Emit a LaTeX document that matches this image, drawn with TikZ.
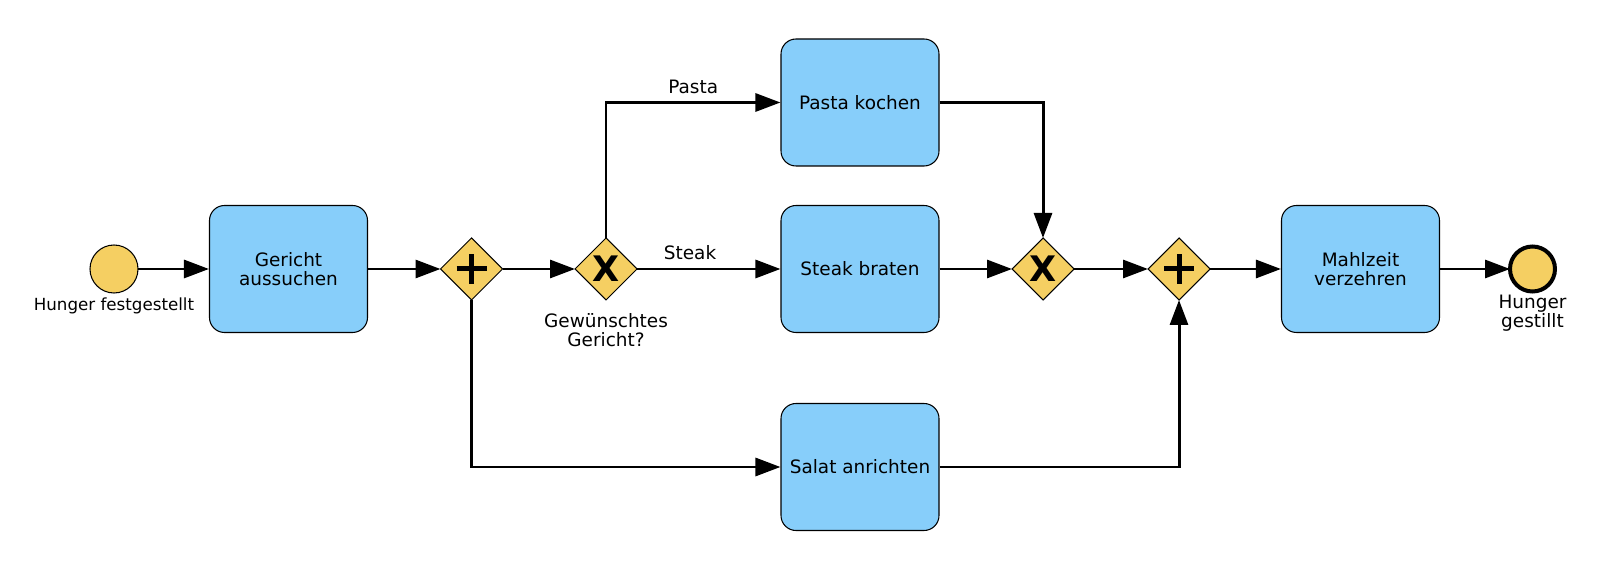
\documentclass[tikz,border=0pt]{standalone}
\usepackage{fontspec}
\setmainfont{DejaVu Sans}
\usetikzlibrary{arrows.meta,shapes.geometric}

\definecolor{taskblue}{RGB}{135,206,250}
\definecolor{gateyellow}{RGB}{245,207,98}

\tikzset{
  task/.style={draw, line width=0.6pt, fill=taskblue, rounded corners=0.3cm,
    minimum width=3.16cm, minimum height=2.54cm, align=center},
  gate/.style={diamond, draw, line width=0.6pt, fill=gateyellow,
    minimum size=1.24cm, inner sep=0pt, outer sep=0pt},
  andgate/.style={gate, path picture={
    \draw[line width=0.1cm] ([xshift=-0.3cm]path picture bounding box.center)
      -- ([xshift=0.3cm]path picture bounding box.center);
    \draw[line width=0.1cm] ([yshift=-0.3cm]path picture bounding box.center)
      -- ([yshift=0.3cm]path picture bounding box.center);}},
  xorgate/.style={gate, path picture={
    \node[inner sep=0pt, font=\fontsize{20}{20}\selectfont\bfseries]
      at (path picture bounding box.center) {X};}},
  startevent/.style={circle, draw, line width=0.6pt, fill=gateyellow,
    minimum size=0.96cm, inner sep=0pt, outer sep=0pt},
  endevent/.style={circle, draw, line width=0.08cm, fill=gateyellow,
    minimum size=0.9cm, inner sep=0pt, outer sep=0pt},
  flow/.style={line width=1.7pt, -{Triangle[length=0.5cm, width=0.36cm]}},
}

\begin{document}
\begin{tikzpicture}[font=\fontsize{10.5}{10.6}\selectfont]
\useasboundingbox (0,0) rectangle (32,11.4);

% Events
\node[startevent] (start) at (2.28,6.02) {};
\node[font=\fontsize{9.5}{10}\selectfont] (startlabel) at (2.28,5.28) {Hunger festgestellt};
\node[endevent] (ende) at (30.65,6.02) {};
\node[align=center] (endelabel) at (30.65,5.14) {Hunger\\gestillt};

% Tasks
\node[task] (gericht) at (5.77,6.02) {Gericht\\aussuchen};
\node[task] (pasta) at (17.2,9.35) {Pasta kochen};
\node[task] (steak) at (17.2,6.02) {Steak braten};
\node[task] (salat) at (17.2,2.06) {Salat anrichten};
\node[task] (mahlzeit) at (27.21,6.02) {Mahlzeit\\verzehren};

% Gateways
\node[andgate] (andsplit) at (9.43,6.02) {};
\node[xorgate] (xorsplit) at (12.12,6.02) {};
\node[align=center] (xorlabel) at (12.12,4.8) {Gewünschtes\\Gericht?};
\node[xorgate] (xorjoin) at (20.86,6.02) {};
\node[andgate] (andjoin) at (23.58,6.02) {};

% Sequence flows
\draw[flow] (start) -- (gericht);
\draw[flow] (gericht) -- (andsplit);
\draw[flow] (andsplit) -- (xorsplit);
\draw[flow] (xorsplit) -- node[above=1pt, pos=0.37] {Steak} (steak);
\draw[flow] (xorsplit) |- node[above=1pt, pos=0.75] {Pasta} (pasta);
\draw[flow] (andsplit) |- (salat);
\draw[flow] (pasta) -| (xorjoin);
\draw[flow] (steak) -- (xorjoin);
\draw[flow] (salat) -| (andjoin);
\draw[flow] (xorjoin) -- (andjoin);
\draw[flow] (andjoin) -- (mahlzeit);
\draw[flow] (mahlzeit) -- (ende);
\end{tikzpicture}
\end{document}
